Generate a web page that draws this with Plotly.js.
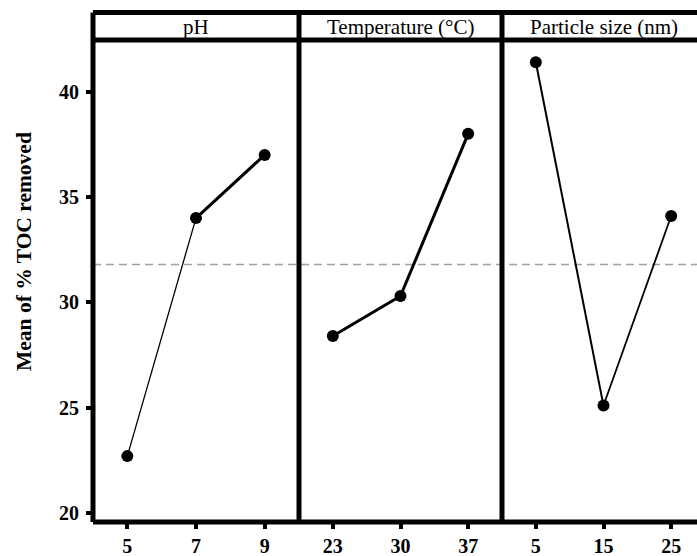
<!DOCTYPE html>
<html>
<head>
<meta charset="utf-8">
<script src="https://cdn.plot.ly/plotly-3.0.1.min.js"></script>
<style>html,body{margin:0;padding:0;background:#fff;}#chart{width:697px;height:556px;}</style>
</head>
<body>
<div id="chart"></div>
<script>
// ---- data ----
const phLevels = ['5', '7', '9'];
const phMeans = [22.7, 34.0, 37.0];
const tempLevels = ['23', '30', '37'];
const tempMeans = [28.4, 30.3, 38.0];
const sizeLevels = ['5', '15', '25'];
const sizeMeans = [41.4, 25.1, 34.1];
const grandMean = 31.8;
const yTicks = [20, 25, 30, 35, 40];
const panelTitles = ['pH', 'Temperature (°C)', 'Particle size (nm)'];
const yTitle = 'Mean of % TOC removed';

// ---- styles ----
const segWidths = [[1.3, 3], [3, 3], [2, 1.8]];
const FONT = 'Liberation Serif';
const panels = [
  {levels: phLevels, means: phMeans, xa: 'x'},
  {levels: tempLevels, means: tempMeans, xa: 'x2'},
  {levels: sizeLevels, means: sizeMeans, xa: 'x3'}
];

const traces = [];
panels.forEach((p, k) => {
  for (let i = 0; i < p.levels.length - 1; i++) {
    traces.push({
      type: 'scatter', mode: 'lines', xaxis: p.xa, yaxis: 'y',
      x: [p.levels[i], p.levels[i + 1]], y: [p.means[i], p.means[i + 1]],
      line: {color: '#000', width: segWidths[k][i]}, hoverinfo: 'skip', showlegend: false
    });
  }
  traces.push({
    type: 'scatter', mode: 'markers', xaxis: p.xa, yaxis: 'y',
    x: p.levels, y: p.means,
    marker: {color: '#000', size: 12}, showlegend: false
  });
});

const W = 697, H = 556, ML = 93, MT = 40, MB = 34;
const plotW = W - ML, plotH = H - MT - MB;
const sep1 = (299 - ML) / plotW, sep2 = (502 - ML) / plotW;
const stripTop = 1 + (MT - 12.5) / plotH;
const stripText = 1 + (MT - 27) / plotH;
const step3 = (502 - 299) / 3;
const x3max = -0.5 + (W - 502) / step3;

function xax(domain, range) {
  return {
    type: 'category', domain: domain, range: range, anchor: 'y',
    showgrid: false, zeroline: false, showline: false,
    ticks: 'outside', ticklen: 6, tickwidth: 4, tickcolor: '#000',
    tickfont: {family: FONT, size: 20, color: '#000', weight: 'bold'}
  };
}

const shapes = [
  {type: 'line', xref: 'paper', yref: 'y', x0: 0, x1: 1, y0: grandMean, y1: grandMean,
   line: {color: '#a0a0a0', width: 1.5, dash: '8px,5px'}, layer: 'below'},
  {type: 'line', xref: 'paper', yref: 'paper', x0: 0, x1: 1.05, y0: stripTop, y1: stripTop, line: {color: '#000', width: 5}},
  {type: 'line', xref: 'paper', yref: 'paper', x0: 0, x1: 1.05, y0: 1, y1: 1, line: {color: '#000', width: 5}},
  {type: 'line', xref: 'paper', yref: 'paper', x0: 0, x1: 1.05, y0: 0, y1: 0, line: {color: '#000', width: 5}},
  {type: 'line', xref: 'paper', yref: 'paper', x0: 0, x1: 0, y0: 0, y1: stripTop, line: {color: '#000', width: 5}},
  {type: 'line', xref: 'paper', yref: 'paper', x0: sep1, x1: sep1, y0: 0, y1: stripTop, line: {color: '#000', width: 5}},
  {type: 'line', xref: 'paper', yref: 'paper', x0: sep2, x1: sep2, y0: 0, y1: stripTop, line: {color: '#000', width: 5}}
];

const annCenters = [0.5, 0.5, (1.5 * step3) / (W - 502)];
const annotations = panelTitles.map((t, k) => ({
  xref: (k === 0 ? 'x' : 'x' + (k + 1)) + ' domain', yref: 'paper',
  x: annCenters[k], y: stripText, xanchor: 'center', yanchor: 'middle',
  text: t, showarrow: false, font: {family: FONT, size: 21, color: '#000'}
}));
annotations.push({
  xref: 'paper', yref: 'paper', x: (24 - ML) / plotW, y: (H - MB - 252) / plotH,
  xanchor: 'center', yanchor: 'middle', textangle: -90,
  text: yTitle, showarrow: false, font: {family: FONT, size: 21.5, color: '#000', weight: 'bold'}
});

const layout = {
  width: W, height: H,
  margin: {l: ML, r: 0, t: MT, b: MB, pad: 0},
  paper_bgcolor: '#fff', plot_bgcolor: '#fff',
  showlegend: false,
  xaxis: xax([0, sep1], [-0.5, 2.5]),
  xaxis2: xax([sep1, sep2], [-0.5, 2.5]),
  xaxis3: xax([sep2, 1], [-0.5, x3max]),
  yaxis: {
    range: [20 - 9 / 21.065, 40 + 51.7 / 21.065],
    tickvals: yTicks, ticktext: yTicks.map(String),
    showgrid: false, zeroline: false, showline: false,
    ticks: 'outside', ticklen: 6, tickwidth: 4, tickcolor: '#000',
    ticklabelstandoff: 3,
    tickfont: {family: FONT, size: 20, color: '#000', weight: 'bold'}
  },
  shapes: shapes,
  annotations: annotations
};

Plotly.newPlot('chart', traces, layout, {displayModeBar: false, staticPlot: true});
</script>
</body>
</html>
